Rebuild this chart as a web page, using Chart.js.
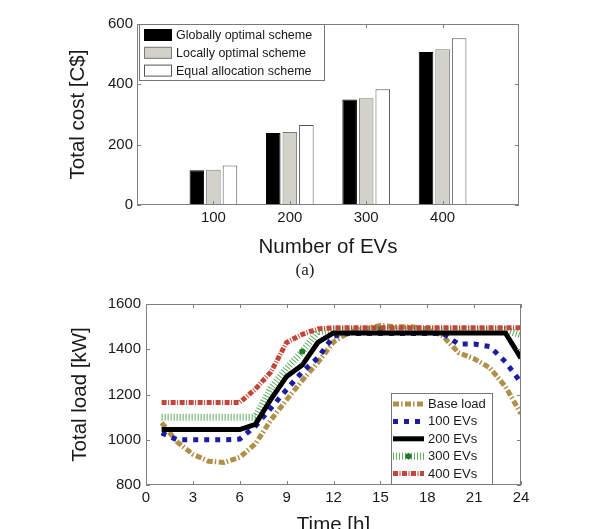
<!DOCTYPE html>
<html lang="en">
<head>
<meta charset="UTF-8">
<title>EV charging: total cost and total load</title>
<script src="https://cdn.jsdelivr.net/npm/chart.js"></script>
<style>
  body {
    margin: 0;
    width: 595px;
    height: 529px;
    overflow: hidden;
    position: relative;
    background: #fff;
    font-family: 'Liberation Sans', Arial, sans-serif;
  }
  #costChart { position: absolute; left: 0; top: 0; }
  #loadChart { position: absolute; left: 0; top: 285px; }
  .caption {
    position: absolute;
    left: 285px;
    top: 259px;
    width: 40px;
    text-align: center;
    font-family: 'Liberation Serif', 'Times New Roman', serif;
    font-size: 17px;
    line-height: 22px;
    color: #222;
  }
</style>
</head>
<body>

<canvas id="costChart" width="595" height="285"></canvas>
<div class="caption">(a)</div>
<canvas id="loadChart" width="595" height="260"></canvas>

<script>
// ---- (a) total cost vs number of EVs ----
const evCounts = [100, 200, 300, 400];
const globalCost = [115, 239, 350, 507];
const localCost = [117, 242, 354, 516];
const equalCost = [131, 265, 384, 553];
const costTicks = [0, 200, 400, 600];

// ---- total load over the day ----
const hours = [1, 2, 3, 4, 5, 6, 7, 8, 9, 10, 11, 12, 13, 14, 15, 16, 17, 18, 19, 20, 21, 22, 23, 24];
const baseLoad = [1075, 990, 936, 905, 900, 922, 982, 1088, 1177, 1262, 1342, 1432, 1475, 1490, 1505, 1500, 1500, 1490, 1458, 1385, 1358, 1318, 1235, 1115];
const load100 = [1030, 1000, 1000, 1000, 1000, 1003, 1060, 1140, 1222, 1300, 1362, 1458, 1470, 1470, 1470, 1470, 1470, 1470, 1470, 1423, 1423, 1412, 1345, 1252];
const load200 = [1045, 1045, 1045, 1045, 1045, 1045, 1068, 1180, 1280, 1330, 1430, 1472, 1472, 1472, 1472, 1472, 1472, 1472, 1472, 1472, 1472, 1472, 1472, 1360];
const load300 = [1100, 1100, 1100, 1100, 1100, 1100, 1100, 1230, 1315, 1390, 1478, 1487, 1487, 1487, 1487, 1487, 1487, 1487, 1487, 1487, 1487, 1487, 1487, 1462];
const load400 = [1165, 1165, 1165, 1165, 1165, 1165, 1224, 1300, 1430, 1466, 1490, 1495, 1495, 1495, 1495, 1495, 1495, 1495, 1495, 1495, 1495, 1495, 1495, 1495];
const dot300Hours = [10, 15];
const timeTicks = [0, 3, 6, 9, 12, 15, 18, 21, 24];
const loadTicks = [800, 1000, 1200, 1400, 1600];

const FONT = "'Liberation Sans', Arial, sans-serif";
const TEXT = '#1a1a1a';

function pts(ys) {
    return hours.map((h, i) => ({ x: h, y: ys[i] }));
}

// matlab style box round the axes with small inward ticks
const frameBox = {
    id: 'frameBox',
    afterDatasetsDraw(chart, args, opts) {
        const { ctx, chartArea: a } = chart;
        const xs = chart.scales.x, ys = chart.scales.y;
        ctx.save();
        ctx.strokeStyle = opts.color || '#808080';
        ctx.lineWidth = 1;
        ctx.strokeRect(Math.round(a.left) + 0.5, Math.round(a.top) + 0.5, Math.round(a.width) - 1, Math.round(a.height) - 1);
        ctx.beginPath();
        xs.ticks.forEach(t => {
            let px = Math.round(xs.getPixelForValue(t.value)) + 0.5;
            ctx.moveTo(px, a.bottom); ctx.lineTo(px, a.bottom - 4);
            ctx.moveTo(px, a.top); ctx.lineTo(px, a.top + 4);
        });
        ys.ticks.forEach(t => {
            let py = Math.round(ys.getPixelForValue(t.value)) + 0.5;
            ctx.moveTo(a.left, py); ctx.lineTo(a.left + 4, py);
            ctx.moveTo(a.right, py); ctx.lineTo(a.right - 4, py);
        });
        ctx.stroke();
        ctx.restore();
    }
};

// legend drawn inside the plot, like the matlab one
const boxLegend = {
    id: 'boxLegend',
    afterDraw(chart, args, o) {
        const ctx = chart.ctx;
        ctx.save();
        ctx.fillStyle = '#fff';
        ctx.fillRect(o.left, o.top, o.width, o.height);
        ctx.strokeStyle = '#777';
        ctx.lineWidth = 1;
        ctx.strokeRect(o.left + 0.5, o.top + 0.5, o.width, o.height);
        ctx.font = o.fontSize + 'px ' + FONT;
        ctx.textBaseline = 'middle';
        chart.data.datasets.forEach((ds, i) => {
            const cy = o.rowStart + i * o.rowGap;
            if (o.kind === 'bar') {
                ctx.setLineDash([]);
                ctx.fillStyle = ds.backgroundColor;
                ctx.fillRect(o.swatchLeft, cy - o.swatchHeight / 2, o.swatchWidth, o.swatchHeight);
                ctx.strokeStyle = ds.borderColor;
                ctx.strokeRect(o.swatchLeft + 0.5, cy - o.swatchHeight / 2 + 0.5, o.swatchWidth - 1, o.swatchHeight - 1);
            } else {
                ctx.strokeStyle = ds.borderColor;
                ctx.lineWidth = ds.borderWidth;
                ctx.setLineDash(ds.borderDash || []);
                ctx.beginPath();
                ctx.moveTo(o.swatchLeft, cy);
                ctx.lineTo(o.swatchLeft + o.swatchWidth, cy);
                ctx.stroke();
                ctx.setLineDash([]);
                ctx.lineWidth = 1;
                if (ds.legendDot) {
                    ctx.fillStyle = ds.pointBackgroundColor;
                    ctx.beginPath();
                    ctx.arc(o.swatchLeft + o.swatchWidth / 2, cy, 3, 0, Math.PI * 2);
                    ctx.fill();
                }
            }
            ctx.fillStyle = TEXT;
            ctx.fillText(ds.label, o.textLeft, cy + 0.5);
        });
        ctx.restore();
    }
};

Chart.register(frameBox, boxLegend);

const tickFont = { family: FONT, size: 15 };
const titleFont = { family: FONT, size: 20.5 };
const plainNumber = v => String(v);

new Chart(document.getElementById('costChart'), {
    type: 'bar',
    data: {
        datasets: [
            { label: 'Globally optimal scheme', data: evCounts.map((n, i) => ({ x: n, y: globalCost[i] })),
              backgroundColor: '#000', borderColor: '#000', borderWidth: 1 },
            { label: 'Locally optimal scheme', data: evCounts.map((n, i) => ({ x: n, y: localCost[i] })),
              backgroundColor: '#d2d2ca', borderColor: '#7a7a7a', borderWidth: 1 },
            { label: 'Equal allocation scheme', data: evCounts.map((n, i) => ({ x: n, y: equalCost[i] })),
              backgroundColor: '#fff', borderColor: '#555', borderWidth: 1 }
        ]
    },
    options: {
        responsive: false,
        animation: false,
        layout: { padding: { left: 0, right: 76, top: 24, bottom: 0 } },
        datasets: { bar: { categoryPercentage: 0.65, barPercentage: 0.88 } },
        scales: {
            x: {
                type: 'linear', min: 0, max: 500, offset: false,
                afterBuildTicks: s => { s.ticks = evCounts.map(v => ({ value: v })); },
                afterFit: s => { s.height = 80; },
                grid: { display: false, drawTicks: false },
                border: { display: false },
                ticks: { font: tickFont, color: TEXT, padding: 4, callback: plainNumber },
                title: { display: true, text: 'Number of EVs', font: titleFont, color: TEXT, padding: { top: 0, bottom: 25 } }
            },
            y: {
                min: 0, max: 600,
                afterBuildTicks: s => { s.ticks = costTicks.map(v => ({ value: v })); },
                afterFit: s => { s.width = 137; },
                grid: { display: false, drawTicks: false },
                border: { display: false },
                ticks: { font: tickFont, color: TEXT, padding: 4, callback: plainNumber },
                title: { display: true, text: 'Total cost [C$]', font: titleFont, color: TEXT, padding: { top: 66, bottom: 0 } }
            }
        },
        plugins: {
            legend: { display: false },
            tooltip: { enabled: false },
            frameBox: { color: '#808080' },
            boxLegend: { kind: 'bar', left: 139, top: 24, width: 185, height: 56,
                         rowStart: 35, rowGap: 17.8, swatchLeft: 144, swatchWidth: 28, swatchHeight: 12,
                         textLeft: 176, fontSize: 12.5 }
        }
    }
});

new Chart(document.getElementById('loadChart'), {
    type: 'line',
    data: {
        datasets: [
            { label: 'Base load', data: pts(baseLoad), borderColor: '#b08f48', borderWidth: 5,
              borderDash: [6, 2, 1.5, 2.5], pointRadius: 0, order: 4 },
            { label: '100 EVs', data: pts(load100), borderColor: '#1c1ca0', borderWidth: 5,
              borderDash: [5, 6], pointRadius: 0, order: 3 },
            { label: '200 EVs', data: pts(load200), borderColor: '#000', borderWidth: 5,
              pointRadius: 0, order: 0 },
            { label: '300 EVs', data: pts(load300), borderColor: '#5eab5e', borderWidth: 7,
              borderDash: [1, 2], pointBackgroundColor: '#1f7a2a', pointBorderWidth: 0,
              pointRadius: c => dot300Hours.includes(c.raw.x) ? 3 : 0, legendDot: true, order: 2 },
            { label: '400 EVs', data: pts(load400), borderColor: '#c2473a', borderWidth: 5,
              borderDash: [5, 1.5, 1, 1.5], pointRadius: 0, order: 1 }
        ]
    },
    options: {
        responsive: false,
        animation: false,
        layout: { padding: { left: 0, right: 74, top: 19, bottom: 0 } },
        scales: {
            x: {
                type: 'linear', min: 0, max: 24,
                afterBuildTicks: s => { s.ticks = timeTicks.map(v => ({ value: v })); },
                afterFit: s => { s.height = 60; },
                grid: { display: false, drawTicks: false },
                border: { display: false },
                ticks: { font: tickFont, color: TEXT, padding: 4, callback: plainNumber },
                title: { display: true, text: 'Time [h]', font: titleFont, color: TEXT, padding: { top: 0, bottom: 7 } }
            },
            y: {
                min: 800, max: 1600,
                afterBuildTicks: s => { s.ticks = loadTicks.map(v => ({ value: v })); },
                afterFit: s => { s.width = 146; },
                grid: { display: false, drawTicks: false },
                border: { display: false },
                ticks: { font: tickFont, color: TEXT, padding: 5, callback: plainNumber },
                title: { display: true, text: 'Total load [kW]', font: titleFont, color: TEXT, padding: { top: 68, bottom: 0 } }
            }
        },
        plugins: {
            legend: { display: false },
            tooltip: { enabled: false },
            frameBox: { color: '#808080' },
            boxLegend: { kind: 'line', left: 391, top: 108, width: 101, height: 91,
                         rowStart: 119, rowGap: 17.4, swatchLeft: 393, swatchWidth: 31, swatchHeight: 0,
                         textLeft: 428, fontSize: 13 }
        }
    }
});
</script>
</body>
</html>
